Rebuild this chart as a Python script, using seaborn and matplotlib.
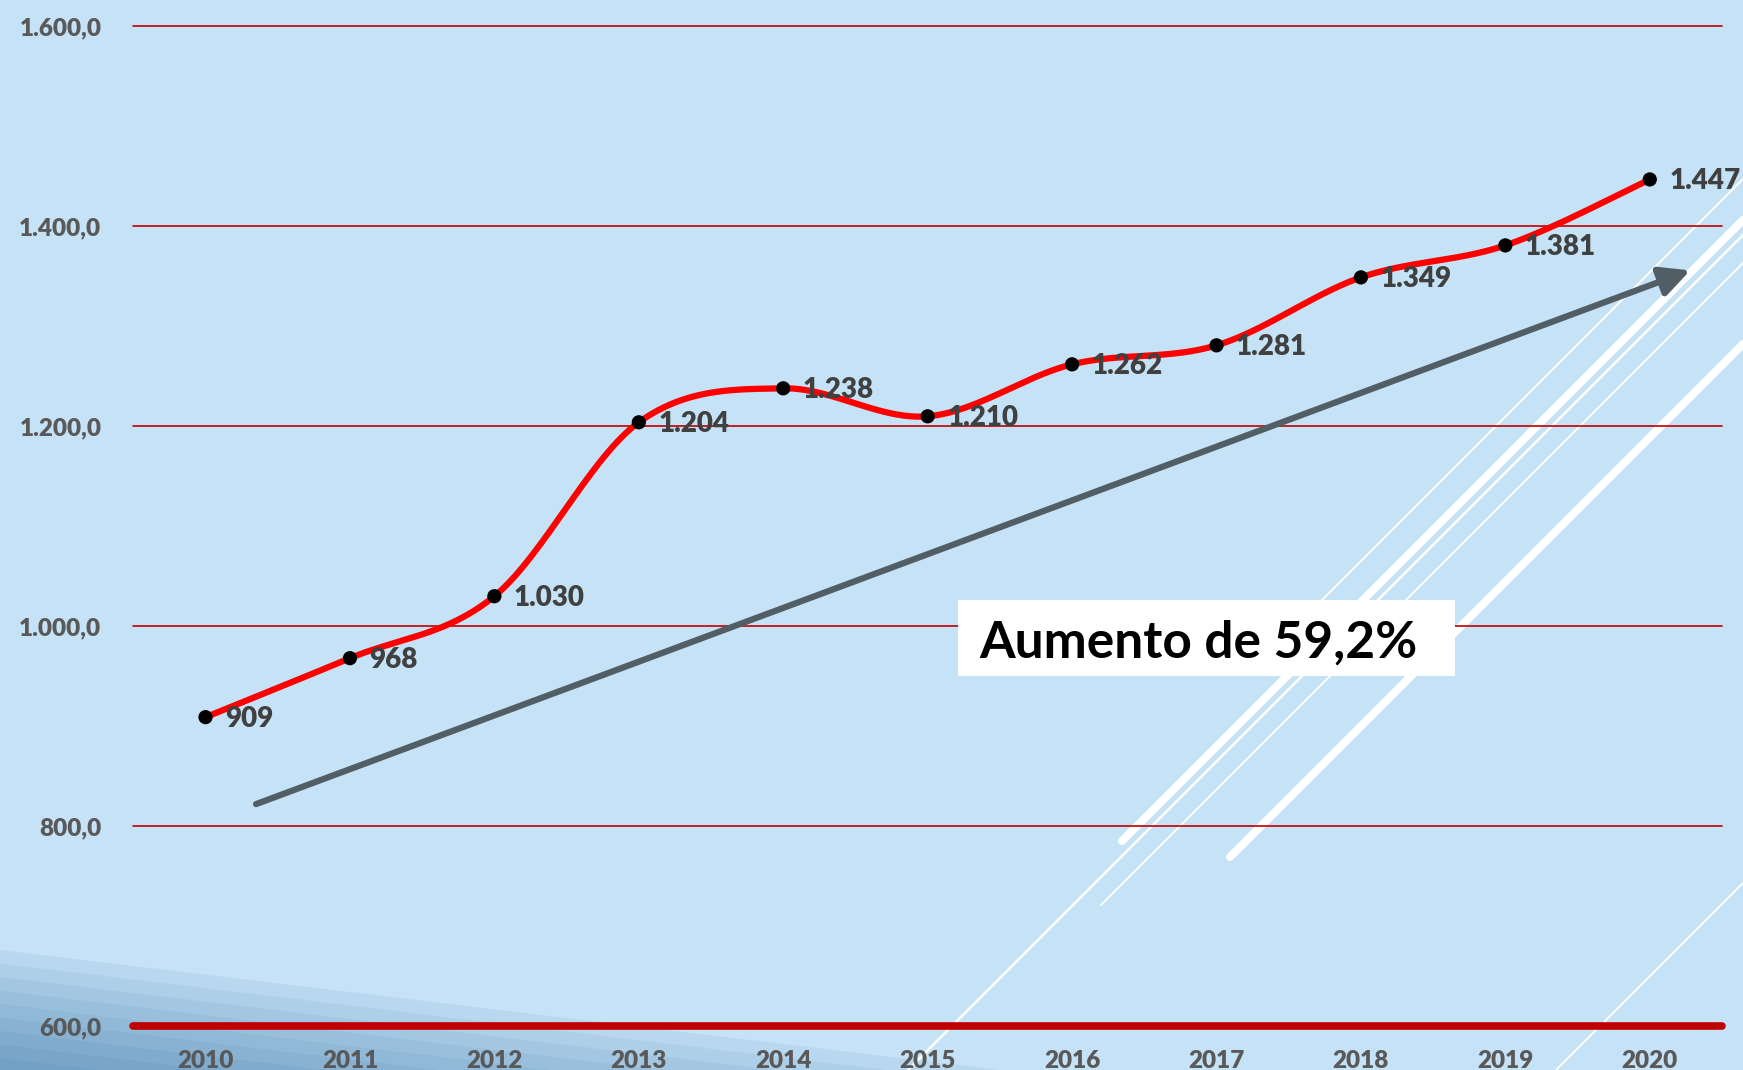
import numpy as np
import matplotlib
matplotlib.use("Agg")
import matplotlib.pyplot as plt
from matplotlib.lines import Line2D
from matplotlib.patches import Polygon, Rectangle
import seaborn as sns

# ---- data ----
years = [2010, 2011, 2012, 2013, 2014, 2015, 2016, 2017, 2018, 2019, 2020]
values = [909, 968, 1030, 1204, 1238, 1210, 1262, 1281, 1349, 1381, 1447]
y_ticks = [600, 800, 1000, 1200, 1400, 1600]
annotation_text = "Aumento de 59,2%"
trend_start = (2010.35, 822)
trend_end = (2020.28, 1356)

# ---- style ----
W, H = 1743, 1070
BG = "#C5E2F6"
GRID_RED = "#C00000"
LINE_RED = "#FF0000"
TICK_GREY = "#595959"
LABEL_GREY = "#404040"
ARROW_GREY = "#525E66"

sns.set_theme(style="white")
plt.rcParams['font.family'] = ['Lato', 'DejaVu Sans']

fig = plt.figure(figsize=(W / 100, H / 100), dpi=100, facecolor=BG)


def fx(px):
    return px / W


def fy(py):
    return 1 - py / H


# background: shaded bands bottom-left
for k in range(10):
    y0 = 950 + 13.5 * k
    xe = (H - y0) / 0.12
    fig.add_artist(Polygon([(fx(0), fy(y0)), (fx(xe), fy(H)), (fx(0), fy(H))],
                           closed=True, transform=fig.transFigure,
                           facecolor=(0.18, 0.42, 0.62), alpha=0.08,
                           edgecolor='none', zorder=-2))

# background: white diagonal strokes
strokes = [
    (1300, 622, 1743, 179, 2.0),
    (1122, 841, 1743, 220, 8.0),
    (908, 1070, 1743, 235, 2.5),
    (1101, 905, 1743, 263, 2.0),
    (1230, 857, 1743, 344, 8.0),
    (1556, 1070, 1743, 883, 2.0),
]
for x1, y1, x2, y2, w in strokes:
    fig.add_artist(Line2D([fx(x1), fx(x2)], [fy(y1), fy(y2)],
                          transform=fig.transFigure, color="white",
                          lw=w * 0.72, solid_capstyle='round', zorder=-1))

# ---- axes ----
ax_left, ax_right, ax_top, ax_bottom = 133.3, 1722, 26.5, 1026
ax = fig.add_axes([fx(ax_left), fy(ax_bottom), (ax_right - ax_left) / W,
                   (ax_bottom - ax_top) / H])
ax.set_zorder(1)
ax.patch.set_visible(False)
for s in ax.spines.values():
    s.set_visible(False)

ax.set_xlim(2009.5, 2020.5)
ax.set_ylim(600, 1600)

# gridlines
for v in y_ticks[1:]:
    ax.axhline(v, color=GRID_RED, lw=1.2, zorder=1, clip_on=False)
ax.axhline(y_ticks[0], color=GRID_RED, lw=5.5, zorder=2, clip_on=False,
           solid_capstyle='round')

# smoothed curve (Bezier smoothing like spreadsheet "smoothed line")
xscale = (1649.7 - 204.8) / 10.0
P = np.column_stack([np.array(years, float) * xscale, np.array(values, float)])
n = len(P)
segs = []
t = np.linspace(0, 1, 50)[:, None]
for i in range(n - 1):
    p0 = P[max(i - 1, 0)]
    p1 = P[i]
    p2 = P[i + 1]
    p3 = P[min(i + 2, n - 1)]
    c1 = p1 + (p2 - p0) / 6
    c2 = p2 - (p3 - p1) / 6
    seg = (1 - t) ** 3 * p1 + 3 * (1 - t) ** 2 * t * c1 + 3 * (1 - t) * t ** 2 * c2 + t ** 3 * p2
    segs.append(seg if i == 0 else seg[1:])
curve = np.vstack(segs)
curve[:, 0] /= xscale

sns.lineplot(x=curve[:, 0], y=curve[:, 1], sort=False, estimator=None,
             color=LINE_RED, linewidth=4.5, ax=ax, zorder=4)
sns.scatterplot(x=years, y=values, color="black", s=105, edgecolor='none',
                ax=ax, zorder=5)


def thousands(v, decimals=0):
    s = f"{v:,.{decimals}f}"
    return s.replace(",", "X").replace(".", ",").replace("X", ".")


for x, v in zip(years, values):
    ax.annotate(thousands(v), (x, v), xytext=(14, -7), textcoords='offset points',
                ha='left', va='baseline', fontsize=20, fontweight='heavy',
                color=LABEL_GREY, zorder=6, annotation_clip=False)

# trend arrow
ax.annotate('', xy=trend_end, xytext=trend_start,
            arrowprops=dict(arrowstyle='-|>,head_length=0.9,head_width=0.45',
                            mutation_scale=20, color=ARROW_GREY, lw=4.5,
                            shrinkA=0, shrinkB=0), zorder=3)

# ticks
ax.set_xticks(years)
ax.set_xticklabels([str(y) for y in years])
ax.set_yticks(y_ticks)
ax.set_yticklabels([thousands(v, 1) for v in y_ticks])
ax.tick_params(axis='y', length=0, pad=23, labelsize=17.5, labelcolor=TICK_GREY)
ax.tick_params(axis='x', length=0, pad=17, labelsize=17.5, labelcolor=TICK_GREY)
for lab in ax.get_xticklabels() + ax.get_yticklabels():
    lab.set_fontweight('heavy')
ax.set_xlabel('')
ax.set_ylabel('')

# annotation box
fig.add_artist(Rectangle((fx(958), fy(676)), (1455 - 958) / W, (676 - 600) / H,
                         transform=fig.transFigure, facecolor='white',
                         edgecolor='none', zorder=2))
fig.text(fx(979), fy(658), annotation_text, ha='left', va='baseline',
         fontsize=37, fontweight='bold', color='black', zorder=3)

fig.savefig("out.png", dpi=100, facecolor=BG)
